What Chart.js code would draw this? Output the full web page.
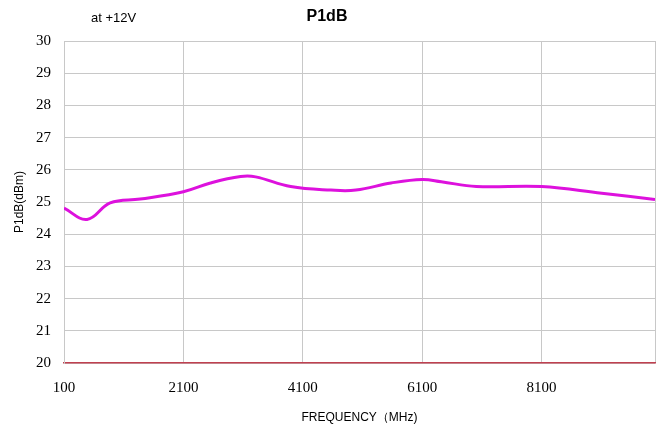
<!DOCTYPE html>
<html><head><meta charset="utf-8">
<script src="https://cdn.jsdelivr.net/npm/chart.js@4/dist/chart.umd.min.js"></script>
<style>html,body{margin:0;padding:0;background:#fff;}#wrap{width:658px;height:429px;}</style>
</head><body><div id="wrap"><canvas id="c" width="658" height="429"></canvas></div>
<script>
const freqMHz = [100, 487, 873, 1377, 2100, 2554, 3058, 3310, 3898, 4571, 4990, 5579, 6100, 6419, 7008, 8100, 9108, 10000];
const p1dB    = [24.81, 24.46, 24.97, 25.09, 25.32, 25.59, 25.79, 25.78, 25.48, 25.37, 25.37, 25.59, 25.70, 25.63, 25.48, 25.48, 25.27, 25.08];
const xTicks = [100, 2100, 4100, 6100, 8100, 10000];
const yMin = 20, yMax = 30;
const titleText = 'P1dB';
const noteText = 'at +12V';
const xTitle = 'FREQUENCY（MHz)';
const yTitle = 'P1dB(dBm)';

const textPlugin = {
  id: 'texts',
  afterDraw(chart) {
    const ctx = chart.ctx;
    ctx.save();
    ctx.fillStyle = '#000';
    ctx.textBaseline = 'middle';
    ctx.textAlign = 'center';
    ctx.font = 'bold 16px "Liberation Sans", Arial, sans-serif';
    ctx.fillText(titleText, 327, 17);
    ctx.font = '13px "Liberation Sans", Arial, sans-serif';
    ctx.textAlign = 'left';
    ctx.fillText(noteText, 91, 18);
    ctx.restore();
  }
};

new Chart(document.getElementById('c'), {
  type: 'line',
  data: {
    datasets: [{
      data: freqMHz.map((f, i) => ({x: f, y: p1dB[i]})),
      borderColor: '#dd11dd',
      borderWidth: 3,
      pointRadius: 0,
      tension: 0.4,
      fill: false
    }]
  },
  options: {
    responsive: false,
    animation: false,
    devicePixelRatio: 1,
    layout: { padding: { top: 41, right: 3, left: 0, bottom: 0 } },
    plugins: { legend: { display: false }, tooltip: { enabled: false } },
    scales: {
      x: {
        type: 'linear', min: 100, max: 10000,
        afterBuildTicks(scale) { scale.ticks = xTicks.map(v => ({value: v})); },
        afterFit(scale) { scale.height = 66; scale.paddingRight = 0; scale.paddingLeft = 0; },
        ticks: {
          autoSkip: false, maxRotation: 0, padding: 16,
          color: '#000',
          font: { family: '"Liberation Serif", serif', size: 15 },
          callback: (v) => v === 10000 ? '' : String(v)
        },
        grid: { color: '#c8c8c8', lineWidth: 1, drawTicks: false },
        border: { color: '#c04050', width: 1.5 },
        title: { display: true, text: xTitle, color: '#000', font: { family: '"Liberation Sans", sans-serif', size: 12 }, padding: { top: 4 } }
      },
      y: {
        type: 'linear', min: yMin, max: yMax,
        afterFit(scale) { scale.width = 64; },
        ticks: {
          stepSize: 1, padding: 13, color: '#000',
          font: { family: '"Liberation Serif", serif', size: 15 }
        },
        grid: { color: '#c8c8c8', lineWidth: 1, drawTicks: false },
        border: { color: '#c8c8c8' },
        title: { display: true, text: yTitle, color: '#000', font: { family: '"Liberation Sans", sans-serif', size: 12 }, padding: { top: 12, bottom: 0 } }
      }
    }
  },
  plugins: [textPlugin]
});
</script></body></html>
